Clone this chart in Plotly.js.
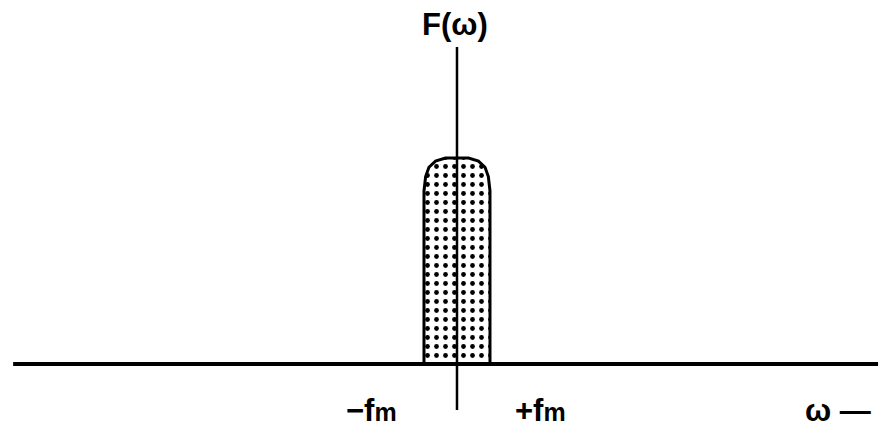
<!DOCTYPE html>
<html>
<head>
<meta charset="utf-8">
<script src="https://cdn.plot.ly/plotly-3.0.1.min.js"></script>
<style>
  html, body { margin: 0; padding: 0; background: #fff; }
  #chart { width: 892px; height: 434px; }
</style>
</head>
<body>
<div id="chart"></div>
<script>
// Frequency in units of fm, amplitude normalised to spectrum peak
const specFreq = [-1.0, -1.0, -0.95, -0.85, -0.65, -0.35, 0, 0.35, 0.65, 0.85, 0.95, 1.0, 1.0];
const specAmp  = [0, 0.84, 0.91, 0.955, 0.985, 1.0, 1.0, 1.0, 0.985, 0.955, 0.91, 0.84, 0];

const axisFreq = [-13.45, 12.76];
const axisAmp  = [0, 0];
const ordFreq  = [0, 0];
const ordAmp   = [-0.223, 1.539];

const labels = [
  {text: "F(ω)", x: -0.06, y: 1.65},
  {text: "−f<span style='font-size:25px'>m</span>", x: -2.6, y: -0.225},
  {text: "+f<span style='font-size:25px'>m</span>", x: 2.52, y: -0.225},
  {text: "ω —", x: 11.55, y: -0.228}
];

const traces = [
  {
    x: specFreq, y: specAmp, type: 'scatter', mode: 'lines',
    fill: 'toself', fillcolor: 'white',
    fillpattern: {shape: '.', size: 9, solidity: 0.22, fgcolor: '#000', bgcolor: '#fff'},
    line: {color: '#000', width: 3}, hoverinfo: 'skip'
  },
  {x: axisFreq, y: axisAmp, type: 'scatter', mode: 'lines', line: {color: '#000', width: 4}, hoverinfo: 'skip'},
  {x: ordFreq, y: ordAmp, type: 'scatter', mode: 'lines', line: {color: '#000', width: 2.5}, hoverinfo: 'skip'}
];

const layout = {
  width: 892, height: 434,
  margin: {l: 0, r: 0, t: 0, b: 0},
  paper_bgcolor: '#fff', plot_bgcolor: '#fff',
  showlegend: false,
  xaxis: {range: [-13.848, 13.182], visible: false, fixedrange: true},
  yaxis: {range: [-0.3398, 1.767], visible: false, fixedrange: true},
  annotations: labels.map(l => ({
    text: '<b>' + l.text + '</b>', x: l.x, y: l.y, xref: 'x', yref: 'y',
    showarrow: false, xanchor: 'center', yanchor: 'middle',
    font: {family: 'Liberation Sans, Arial, sans-serif', size: 31, color: '#000'}
  }))
};

Plotly.newPlot('chart', traces, layout, {displayModeBar: false, staticPlot: true});
</script>
</body>
</html>
